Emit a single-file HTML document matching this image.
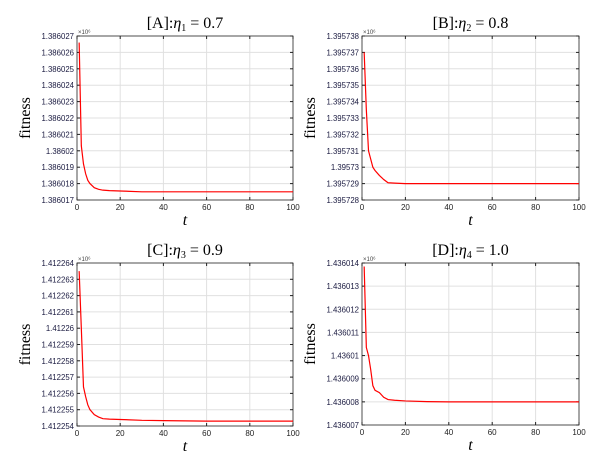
<!DOCTYPE html>
<html><head><meta charset="utf-8"><style>
body{margin:0;background:#fff;}
svg text{font-family:"Liberation Sans",sans-serif;}
.ti{font-family:"Liberation Serif",serif;font-size:16px;}
</style></head><body>
<svg id="c" width="606" height="462"></svg>
<script>
const tVals=[1,2,3,4,5,6,8,10,12,15,20,30,40,60,80,100];
const seriesA=[9.6,3.3,2.2,1.6,1.2,1.0,0.75,0.65,0.6,0.57,0.55,0.5,0.5,0.5,0.5,0.5];
const seriesB=[9.0,5.5,3.0,2.5,2.0,1.8,1.5,1.25,1.05,1.03,1.0,1.0,1.0,1.0,1.0,1.0];
const seriesC=[9.5,6.0,2.4,1.8,1.3,1.0,0.7,0.55,0.45,0.42,0.4,0.35,0.33,0.3,0.3,0.3];
const seriesD=[6.85,3.35,3.0,2.4,1.7,1.5,1.4,1.2,1.1,1.07,1.04,1.01,1.0,1.0,1.0,1.0];
const ticksA=["1.386017","1.386018","1.386019","1.38602","1.386021","1.386022","1.386023","1.386024","1.386025","1.386026","1.386027"];
const ticksB=["1.395728","1.395729","1.39573","1.395731","1.395732","1.395733","1.395734","1.395735","1.395736","1.395737","1.395738"];
const ticksC=["1.412254","1.412255","1.412256","1.412257","1.412258","1.412259","1.41226","1.412261","1.412262","1.412263","1.412264"];
const ticksD=["1.436007","1.436008","1.436009","1.43601","1.436011","1.436012","1.436013","1.436014"];
const xTicks=[0,20,40,60,80,100];
const NS="http://www.w3.org/2000/svg";
const svg=document.getElementById('c');
function mk(tag,at,parent){const e=document.createElementNS(NS,tag);for(const k in at)e.setAttribute(k,at[k]);(parent||svg).appendChild(e);return e;}
function panel(id,L,T,R,B,yt,series,title,sub,val){
  const g=mk('g',{});
  
  
  const ymax=yt.length-1;
  const xs=v=>L+(R-L)*v/100, ys=v=>B-(B-T)*v/ymax;
  mk('rect',{x:L,y:T,width:R-L,height:B-T,fill:'#fff'},g);
  xTicks.forEach(v=>{if(v>0&&v<100)mk('line',{x1:xs(v),x2:xs(v),y1:T,y2:B,stroke:'#e0e0e0','stroke-width':1},g);
    mk('line',{x1:xs(v),x2:xs(v),y1:B,y2:B-3,stroke:'#222'},g);mk('line',{x1:xs(v),x2:xs(v),y1:T,y2:T+3,stroke:'#222'},g);
    const t=mk('text',{x:xs(v),y:B+10,'font-size':8,'text-anchor':'middle',fill:'#222'},g);t.textContent=v;
    });
  yt.forEach((lab,i)=>{const y=ys(i);
    if(i>0&&i<ymax)mk('line',{x1:L,x2:R,y1:y,y2:y,stroke:'#e0e0e0'},g);
    mk('line',{x1:L,x2:L+3,y1:y,y2:y,stroke:'#222'},g);mk('line',{x1:R,x2:R-3,y1:y,y2:y,stroke:'#222'},g);
    const t=mk('text',{x:L-3,y:y+3,'font-size':7.8,'text-anchor':'end',fill:'#1a1a40'},g);t.textContent=lab;
    });
  mk('rect',{x:L,y:T,width:R-L,height:B-T,fill:'none',stroke:'#222','stroke-width':0.8},g);
  const p=mk('polyline',{points:tVals.map((t,i)=>xs(t)+','+ys(series[i])).join(' '),fill:'none',stroke:'#f00','stroke-width':1.2},g);
  
  const e=mk('text',{x:L+1,y:T-2,'font-size':6,fill:'#444'},g);e.textContent='×10⁶';
  const tt=mk('text',{x:(L+R)/2,y:T-8,'text-anchor':'middle',class:'ti'},g);
  tt.innerHTML='['+id+']:<tspan font-style="italic">η</tspan><tspan font-size="10" dy="3">'+sub+'</tspan><tspan dy="-3"> = '+val+'</tspan>';
  
  const xl=mk('text',{x:(L+R)/2,y:B+25,'text-anchor':'middle',class:'ti','font-style':'italic'},g);xl.textContent='t';
  
  const yl=mk('text',{x:0,y:0,'text-anchor':'middle',class:'ti',transform:'translate('+(L-47)+','+((T+B)/2)+') rotate(-90)'},g);yl.textContent='fitness';
  
}
panel('A',77,36,293,200,ticksA,seriesA,'A','1','0.7');
panel('B',362,36,579,200,ticksB,seriesB,'B','2','0.8');
panel('C',77,263,293,426,ticksC,seriesC,'C','3','0.9');
panel('D',362,263,579,425,ticksD,seriesD,'D','4','1.0');
</script>
</body></html>
